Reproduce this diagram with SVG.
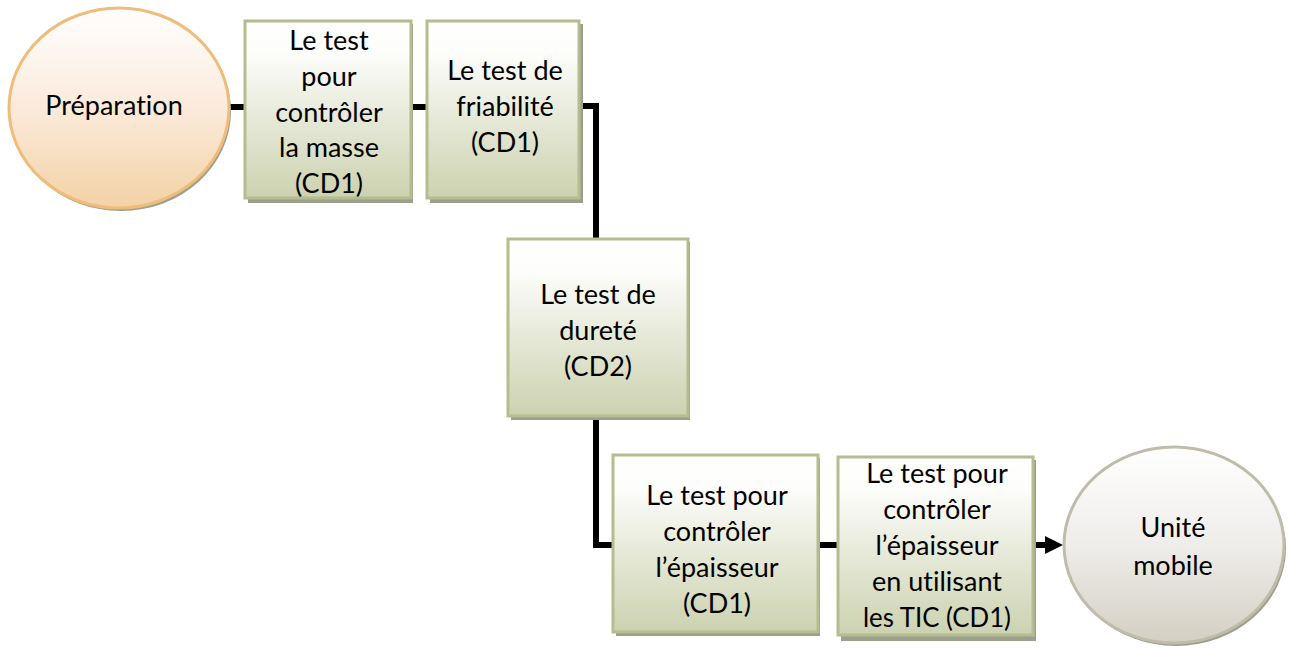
<svg xmlns="http://www.w3.org/2000/svg" width="1290" height="648" viewBox="0 0 1290 648">
<style>
text{font-family:"Lato","Carlito","Open Sans",sans-serif;font-size:27px;fill:#000;text-anchor:middle;font-variant-ligatures:none}
.box{fill:url(#g);stroke:#b5bd8f;stroke-width:3}
.sh{fill:#9c9f8c}
.cn{fill:none;stroke:#000;stroke-width:6}
</style>
<defs>
<linearGradient id="g" x1="0" y1="0" x2="0" y2="1"><stop offset="0" stop-color="#fff"/><stop offset=".18" stop-color="#fdfdfb"/><stop offset=".55" stop-color="#e6e9d8"/><stop offset="1" stop-color="#ccd2b0"/></linearGradient>
<linearGradient id="o" x1="0" y1="0" x2="0" y2="1"><stop offset="0" stop-color="#fff"/><stop offset=".5" stop-color="#fbeadb"/><stop offset="1" stop-color="#f3d2a5"/></linearGradient>
<linearGradient id="u" x1="0" y1="0" x2="0" y2="1"><stop offset="0" stop-color="#fff"/><stop offset=".5" stop-color="#efedea"/><stop offset="1" stop-color="#d3cfc2"/></linearGradient>
<marker id="a" markerUnits="userSpaceOnUse" markerWidth="18" markerHeight="18" refX="5" refY="9" orient="auto"><path d="M0 0L18 9L0 18Z" fill="#000"/></marker>
</defs>
<g id="connectors">
<path class="cn" d="M229 107H245"/>
<path class="cn" d="M411 107H427"/>
<path class="cn" d="M580 106H596V239"/>
<path class="cn" d="M596 416V545H613"/>
<path class="cn" d="M818 545H838"/>
<path class="cn" d="M1033 545H1050" marker-end="url(#a)"/>
</g>
<g id="n1"><ellipse class="sh" cx="121" cy="111" rx="110" ry="100"/><ellipse cx="119" cy="108" rx="110" ry="100" fill="url(#o)" stroke="#efbd7b" stroke-width="3"/><text x="114" y="115">Préparation</text></g>
<g id="n2"><rect class="sh" x="248" y="24" width="165" height="179"/><rect class="box" x="245" y="21" width="166" height="177"/>
<text x="329" y="50">Le test</text><text x="329" y="86">pour</text><text x="329" y="122">contrôler</text><text x="329" y="157">la masse</text><text x="329" y="193">(CD1)</text></g>
<g id="n3"><rect class="sh" x="430" y="24" width="153" height="179"/><rect class="box" x="427" y="21" width="152" height="177"/>
<text x="505" y="80">Le test de</text><text x="505" y="116">friabilité</text><text x="505" y="152">(CD1)</text></g>
<g id="n4"><rect class="sh" x="511" y="242" width="179" height="178"/><rect class="box" x="508" y="239" width="180" height="177"/>
<text x="598" y="304">Le test de</text><text x="598" y="340">dureté</text><text x="598" y="376">(CD2)</text></g>
<g id="n5"><rect class="sh" x="616" y="458" width="204" height="178"/><rect class="box" x="613" y="455" width="205" height="177"/>
<text x="717" y="505">Le test pour</text><text x="717" y="541">contrôler</text><text x="717" y="577">l’épaisseur</text><text x="717" y="613">(CD1)</text></g>
<g id="n6"><rect class="sh" x="841" y="460" width="195" height="181"/><rect class="box" x="838" y="457" width="195" height="178"/>
<text x="937" y="483">Le test pour</text><text x="937" y="519">contrôler</text><text x="937" y="555">l’épaisseur</text><text x="937" y="591">en utilisant</text><text x="937" y="627" textLength="148" lengthAdjust="spacingAndGlyphs">les TIC (CD1)</text></g>
<g id="n7"><ellipse class="sh" cx="1176" cy="548" rx="110" ry="98"/><ellipse cx="1174" cy="545" rx="110" ry="98" fill="url(#u)" stroke="#bfbcaa" stroke-width="3"/><text x="1173" y="537">Unité</text><text x="1173" y="575">mobile</text></g>
</svg>
